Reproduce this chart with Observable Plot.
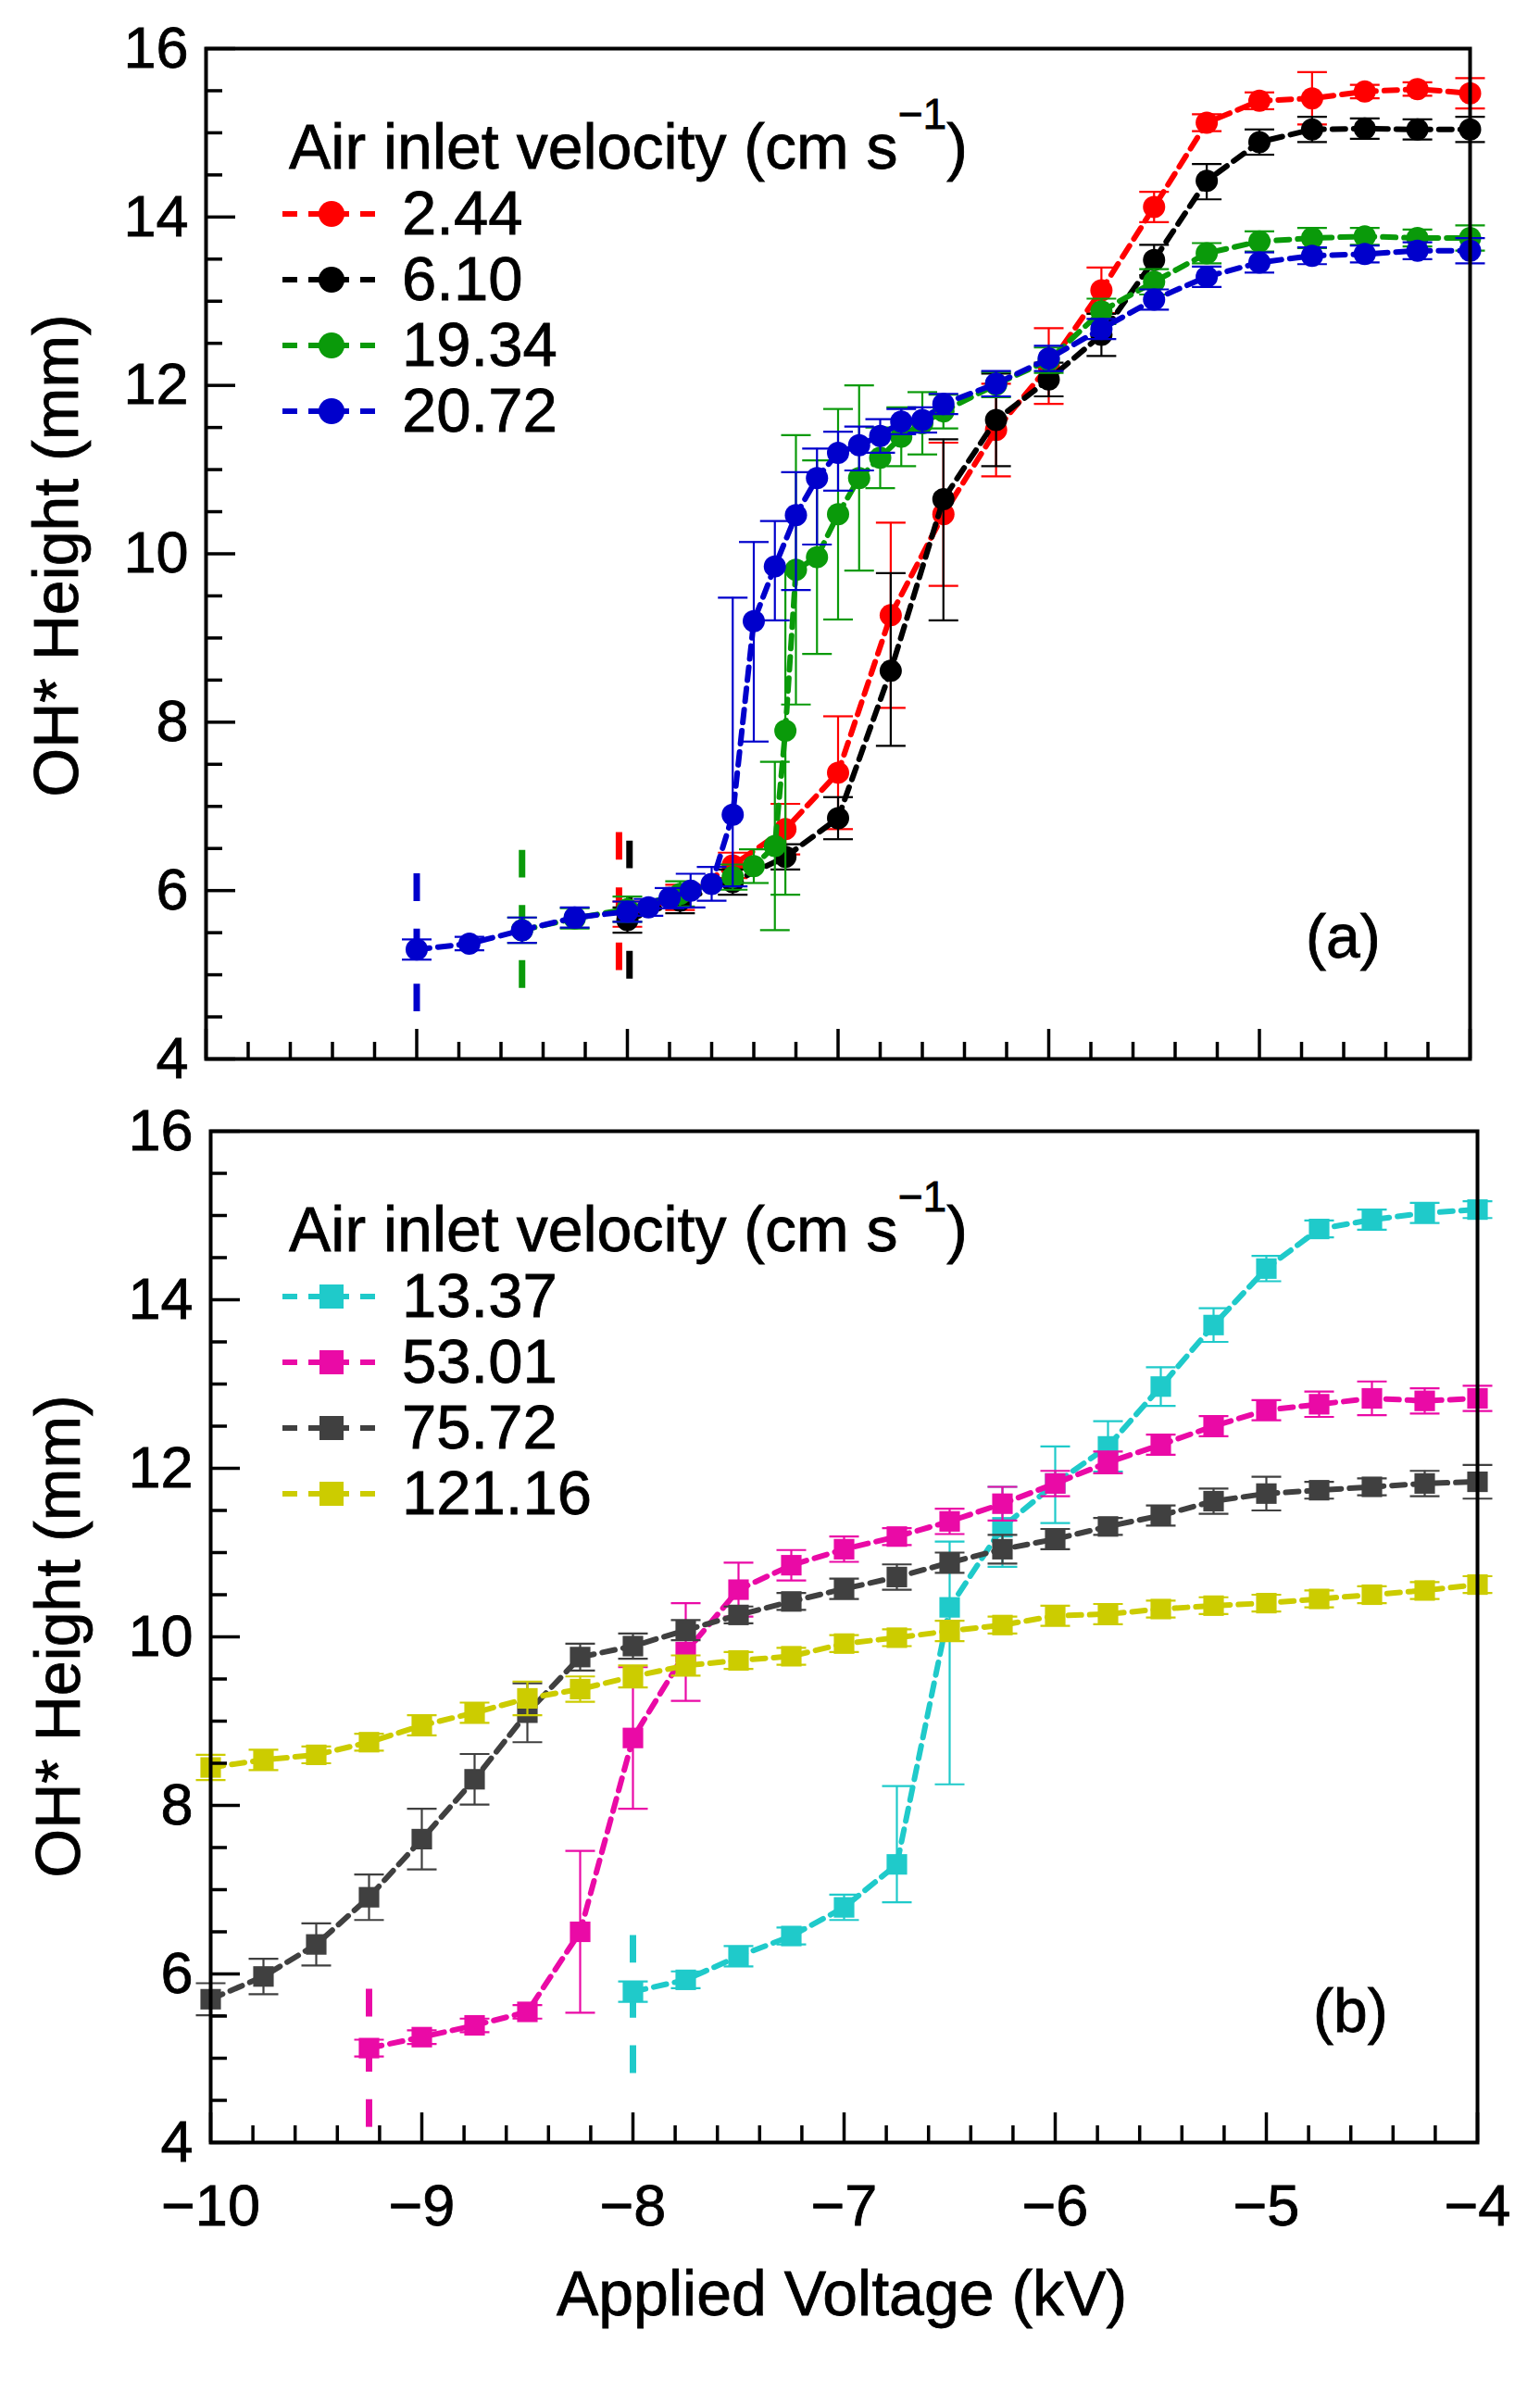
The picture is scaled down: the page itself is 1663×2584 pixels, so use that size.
<!DOCTYPE html>
<html>
<head>
<meta charset="utf-8">
<script src="https://cdn.jsdelivr.net/npm/d3@7"></script>
<script src="https://cdn.jsdelivr.net/npm/@observablehq/plot@0.6"></script>
<style>
  html, body { margin: 0; padding: 0; background: #fff; }
  #page { position: relative; width: 1663px; height: 2584px; font-family: 'Liberation Sans', Arial, Helvetica, sans-serif; color: #000; overflow: hidden; }
  .abs { position: absolute; white-space: nowrap; line-height: 1; -webkit-text-stroke: 0.8px #000; }
  .panel { position: absolute; left: 0; }
  svg text { stroke: #000; stroke-width: 0.8px; }
</style>
</head>
<body>
<div id="page">
  <div id="pa" class="panel" style="top:0px"></div>
  <div id="pb" class="panel" style="top:1190px"></div>
</div>
<script>
// ---------------- Data: panel (a) ----------------
const xRed   = [-8, -7.75, -7.5, -7.25, -7, -6.75, -6.5, -6.25, -6, -5.75, -5.5, -5.25, -5, -4.75, -4.5, -4.25, -4];
const yRed   = [5.72, 5.92, 6.3, 6.73, 7.4, 9.27, 10.47, 11.47, 12.23, 13.13, 14.12, 15.12, 15.38, 15.41, 15.49, 15.52, 15.47];
const hiRed  = [0.15, 0.15, 0.15, 0.3, 0.67, 1.1, 0.85, 0.55, 0.45, 0.27, 0.18, 0.1, 0.1, 0.31, 0.08, 0.08, 0.18];
const loRed  = [0.15, 0.15, 0.15, 0.3, 0.67, 1.1, 0.85, 0.55, 0.45, 0.27, 0.18, 0.1, 0.1, 0.31, 0.08, 0.08, 0.18];

const xBlack  = [-8, -7.75, -7.5, -7.25, -7, -6.75, -6.5, -6.25, -6, -5.75, -5.5, -5.25, -5, -4.75, -4.5, -4.25, -4];
const yBlack  = [5.65, 5.88, 6.1, 6.4, 6.86, 8.61, 10.65, 11.59, 12.07, 12.6, 13.49, 14.43, 14.89, 15.04, 15.05, 15.04, 15.04];
const hiBlack = [0.15, 0.15, 0.15, 0.15, 0.25, 1.16, 0.71, 0.55, 0.2, 0.25, 0.18, 0.2, 0.15, 0.15, 0.12, 0.12, 0.15];
const loBlack = [0.15, 0.15, 0.15, 0.15, 0.25, 0.89, 1.44, 0.55, 0.2, 0.25, 0.18, 0.22, 0.15, 0.15, 0.12, 0.12, 0.15];

const xGreen  = [-8.5, -8.25, -8, -7.75, -7.5, -7.4, -7.3, -7.25, -7.2, -7.1, -7, -6.9, -6.8, -6.7, -6.6, -6.5, -6.25, -6, -5.75, -5.5, -5.25, -5, -4.75, -4.5, -4.25, -4];
const yGreen  = [5.53, 5.67, 5.78, 5.96, 6.16, 6.29, 6.53, 7.9, 9.81, 9.96, 10.47, 10.9, 11.14, 11.39, 11.55, 11.69, 12.01, 12.3, 12.88, 13.23, 13.57, 13.71, 13.75, 13.77, 13.75, 13.75];
const hiGreen = [0.15, 0.12, 0.15, 0.15, 0.15, 0.2, 1.0, 1.95, 1.6, 1.15, 1.25, 1.1, 0.36, 0.35, 0.37, 0.2, 0.15, 0.15, 0.15, 0.15, 0.12, 0.12, 0.12, 0.1, 0.1, 0.15];
const loGreen = [0.15, 0.12, 0.15, 0.15, 0.15, 0.2, 1.0, 1.95, 1.6, 1.15, 1.25, 1.1, 0.36, 0.35, 0.37, 0.2, 0.15, 0.15, 0.15, 0.15, 0.12, 0.12, 0.12, 0.1, 0.1, 0.15];

const xBlue  = [-9, -8.75, -8.5, -8.25, -8, -7.9, -7.8, -7.7, -7.6, -7.5, -7.4, -7.3, -7.2, -7.1, -7, -6.9, -6.8, -6.7, -6.6, -6.5, -6.25, -6, -5.75, -5.5, -5.25, -5, -4.75, -4.5, -4.25, -4];
const yBlue  = [5.3, 5.37, 5.53, 5.68, 5.75, 5.8, 5.91, 6.0, 6.08, 6.9, 9.2, 9.85, 10.46, 10.9, 11.2, 11.29, 11.4, 11.57, 11.59, 11.78, 12.02, 12.32, 12.67, 13.02, 13.29, 13.46, 13.54, 13.56, 13.6, 13.6];
const hiBlue = [0.12, 0.08, 0.15, 0.12, 0.12, 0.1, 0.12, 0.2, 0.2, 2.58, 0.94, 0.54, 0.51, 0.35, 0.25, 0.22, 0.2, 0.15, 0.15, 0.12, 0.15, 0.15, 0.12, 0.12, 0.12, 0.12, 0.1, 0.1, 0.1, 0.15];
const loBlue = [0.12, 0.08, 0.15, 0.12, 0.12, 0.1, 0.12, 0.2, 0.2, 0.85, 1.43, 0.64, 0.89, 0.79, 0.45, 0.3, 0.2, 0.15, 0.15, 0.12, 0.15, 0.15, 0.12, 0.12, 0.12, 0.12, 0.1, 0.1, 0.1, 0.15];

// dashed onset markers, panel (a): red, black, green, blue
const onsetXA  = [-8.04, -7.99, -8.5, -9];
const onsetY1A = [5.05, 4.95, 4.84, 4.56];
const onsetY2A = [6.69, 6.59, 6.49, 6.2];

// ---------------- Data: panel (b) ----------------
const xCyan  = [-8, -7.75, -7.5, -7.25, -7, -6.75, -6.5, -6.25, -6, -5.75, -5.5, -5.25, -5, -4.75, -4.5, -4.25, -4];
const yCyan  = [5.79, 5.93, 6.21, 6.45, 6.79, 7.3, 10.35, 11.3, 11.82, 12.26, 12.97, 13.7, 14.37, 14.84, 14.95, 15.03, 15.07];
const hiCyan = [0.12, 0.1, 0.12, 0.1, 0.15, 0.93, 0.78, 0.48, 0.44, 0.3, 0.23, 0.2, 0.15, 0.1, 0.12, 0.12, 0.1];
const loCyan = [0.12, 0.1, 0.12, 0.1, 0.15, 0.45, 2.1, 0.47, 0.47, 0.3, 0.23, 0.2, 0.15, 0.1, 0.12, 0.12, 0.1];

const xMag  = [-9.25, -9, -8.75, -8.5, -8.25, -8, -7.75, -7.5, -7.25, -7, -6.75, -6.5, -6.25, -6, -5.75, -5.5, -5.25, -5, -4.75, -4.5, -4.25, -4];
const yMag  = [5.12, 5.25, 5.39, 5.55, 6.5, 8.8, 9.82, 10.56, 10.85, 11.04, 11.19, 11.37, 11.58, 11.82, 12.07, 12.28, 12.5, 12.69, 12.76, 12.83, 12.8, 12.83];
const hiMag = [0.1, 0.08, 0.08, 0.08, 0.96, 0.84, 0.58, 0.32, 0.18, 0.15, 0.1, 0.15, 0.2, 0.15, 0.13, 0.12, 0.12, 0.12, 0.15, 0.2, 0.15, 0.15];
const loMag = [0.1, 0.08, 0.08, 0.08, 0.96, 0.84, 0.58, 0.32, 0.18, 0.15, 0.1, 0.15, 0.2, 0.15, 0.13, 0.12, 0.12, 0.12, 0.15, 0.2, 0.15, 0.15];

const xGray  = [-10, -9.75, -9.5, -9.25, -9, -8.75, -8.5, -8.25, -8, -7.75, -7.5, -7.25, -7, -6.75, -6.5, -6.25, -6, -5.75, -5.5, -5.25, -5, -4.75, -4.5, -4.25, -4];
const yGray  = [5.7, 5.97, 6.35, 6.91, 7.6, 8.31, 9.1, 9.76, 9.89, 10.08, 10.26, 10.42, 10.57, 10.71, 10.88, 11.04, 11.16, 11.31, 11.44, 11.61, 11.7, 11.74, 11.78, 11.82, 11.84];
const hiGray = [0.19, 0.21, 0.25, 0.27, 0.36, 0.3, 0.35, 0.16, 0.15, 0.12, 0.1, 0.1, 0.12, 0.15, 0.12, 0.17, 0.12, 0.1, 0.12, 0.15, 0.2, 0.1, 0.1, 0.15, 0.2];
const loGray = [0.19, 0.21, 0.25, 0.27, 0.36, 0.3, 0.35, 0.16, 0.15, 0.12, 0.1, 0.1, 0.12, 0.15, 0.12, 0.17, 0.12, 0.1, 0.12, 0.15, 0.2, 0.1, 0.1, 0.15, 0.2];

const xYel  = [-10, -9.75, -9.5, -9.25, -9, -8.75, -8.5, -8.25, -8, -7.75, -7.5, -7.25, -7, -6.75, -6.5, -6.25, -6, -5.75, -5.5, -5.25, -5, -4.75, -4.5, -4.25, -4];
const yYel  = [8.45, 8.54, 8.6, 8.75, 8.95, 9.1, 9.27, 9.38, 9.53, 9.66, 9.72, 9.77, 9.92, 9.99, 10.07, 10.14, 10.25, 10.27, 10.33, 10.37, 10.4, 10.45, 10.5, 10.55, 10.62];
const hiYel = [0.15, 0.12, 0.1, 0.1, 0.12, 0.12, 0.2, 0.15, 0.13, 0.12, 0.1, 0.1, 0.1, 0.1, 0.12, 0.1, 0.12, 0.12, 0.1, 0.1, 0.1, 0.1, 0.1, 0.1, 0.1];
const loYel = [0.15, 0.12, 0.1, 0.1, 0.12, 0.12, 0.2, 0.15, 0.13, 0.12, 0.1, 0.1, 0.1, 0.1, 0.12, 0.1, 0.12, 0.12, 0.1, 0.1, 0.1, 0.1, 0.1, 0.1, 0.1];

// dashed onset markers, panel (b): magenta, cyan
const onsetXB  = [-9.25, -8];
const onsetY1B = [4.18, 4.82];
const onsetY2B = [5.82, 6.46];

// ---------------- Labels / ticks ----------------
const legendTitle = "Air inlet velocity (cm s";
const labelsA = ["2.44", "6.10", "19.34", "20.72"];
const labelsB = ["13.37", "53.01", "75.72", "121.16"];
const colorsA = ["#ff0000", "#000000", "#0a9a0a", "#0000cc"];
const colorsB = ["#1fcaca", "#ea0aa6", "#404040", "#cccc00"];
const majorX = [-10, -9, -8, -7, -6, -5, -4];
const minorX = [-9.8, -9.6, -9.4, -9.2, -8.8, -8.6, -8.4, -8.2, -7.8, -7.6, -7.4, -7.2, -6.8, -6.6, -6.4, -6.2, -5.8, -5.6, -5.4, -5.2, -4.8, -4.6, -4.4, -4.2];
const majorY = [4, 6, 8, 10, 12, 14, 16];
const minorY = [4.5, 5, 5.5, 6.5, 7, 7.5, 8.5, 9, 9.5, 10.5, 11, 11.5, 12.5, 13, 13.5, 14.5, 15, 15.5];
const xTitle = "Applied Voltage (kV)";
const yTitle = "OH* Height (mm)";

// ---------------- Helpers ----------------
const FONT = "'Liberation Sans', Arial, Helvetica, sans-serif";
const capSymbol = { draw(ctx, size) { const w = Math.sqrt(size / Math.PI); ctx.moveTo(-w, 0); ctx.lineTo(w, 0); } };

function rowsOf(xs, ys, hi, lo) {
  return xs.map((x, i) => ({ x, y: ys[i], hi: ys[i] + hi[i], lo: ys[i] - lo[i] }));
}
function seriesMarks(rows, color, symbol, r) {
  return [
    Plot.ruleX(rows, { x: "x", y1: "lo", y2: "hi", stroke: color, strokeWidth: 2.2 }),
    Plot.dot(rows, { x: "x", y: "hi", symbol: capSymbol, r: 16, stroke: color, fill: "none", strokeWidth: 2.2 }),
    Plot.dot(rows, { x: "x", y: "lo", symbol: capSymbol, r: 16, stroke: color, fill: "none", strokeWidth: 2.2 }),
    Plot.line(rows, { x: "x", y: "y", stroke: color, strokeWidth: 6, strokeDasharray: "14,9" }),
    Plot.dot(rows, { x: "x", y: "y", symbol, r, fill: color, stroke: "none" })
  ];
}
function onsetMarks(xs, y1s, y2s, colors) {
  return xs.map((x, i) => Plot.ruleX([{ x, y1: y1s[i], y2: y2s[i] }], { x: "x", y1: "y1", y2: "y2", stroke: colors[i], strokeWidth: 7, strokeDasharray: "29.8,29.8" }));
}
const fmtX = d => (d < 0 ? "\u2212" : "") + Math.abs(d);
function axisMarks(showX) {
  return [
    Plot.axisY({ ticks: majorY, anchor: "left", tickSize: -32, tickPadding: 51, strokeWidth: 3.5, fontSize: 63, label: null, tickFormat: d => String(d) }),
    Plot.axisY({ ticks: minorY, anchor: "left", tickSize: -18, strokeWidth: 3.5, label: null, tickFormat: () => "" }),
    Plot.axisX({ ticks: majorX, anchor: "bottom", tickSize: -32, tickPadding: 77, strokeWidth: 3.5, fontSize: 63, label: null, tickFormat: showX ? fmtX : () => "" }),
    Plot.axisX({ ticks: minorX, anchor: "bottom", tickSize: -18, strokeWidth: 3.5, label: null, tickFormat: () => "" }),
    Plot.frame({ strokeWidth: 4, stroke: "#000" })
  ];
}

// ---------------- Panel (a) ----------------
const plotA = Plot.plot({
  width: 1663, height: 1190,
  marginTop: 52, marginBottom: 47, marginLeft: 222, marginRight: 76,
  style: { fontFamily: FONT, fontSize: "63px", color: "#000", background: "transparent", overflow: "visible" },
  x: { domain: [-10, -4], label: null },
  y: { domain: [4, 16], label: null },
  marks: [
    ...onsetMarks(onsetXA, onsetY1A, onsetY2A, colorsA),
    ...seriesMarks(rowsOf(xRed, yRed, hiRed, loRed), colorsA[0], "circle", 12),
    ...seriesMarks(rowsOf(xBlack, yBlack, hiBlack, loBlack), colorsA[1], "circle", 12),
    ...seriesMarks(rowsOf(xGreen, yGreen, hiGreen, loGreen), colorsA[2], "circle", 12),
    ...seriesMarks(rowsOf(xBlue, yBlue, hiBlue, loBlue), colorsA[3], "circle", 12),
    ...axisMarks(false)
  ]
});
document.getElementById("pa").appendChild(plotA);

// ---------------- Panel (b) ----------------
const plotB = Plot.plot({
  width: 1663, height: 1394,
  marginTop: 31, marginBottom: 271, marginLeft: 227, marginRight: 68,
  style: { fontFamily: FONT, fontSize: "63px", color: "#000", background: "transparent", overflow: "visible" },
  x: { domain: [-10, -4], label: null },
  y: { domain: [4, 16], label: null },
  marks: [
    ...onsetMarks(onsetXB, onsetY1B, onsetY2B, [colorsB[1], colorsB[0]]),
    ...seriesMarks(rowsOf(xCyan, yCyan, hiCyan, loCyan), colorsB[0], "square", 12.5),
    ...seriesMarks(rowsOf(xMag, yMag, hiMag, loMag), colorsB[1], "square", 12.5),
    ...seriesMarks(rowsOf(xGray, yGray, hiGray, loGray), colorsB[2], "square", 12.5),
    ...seriesMarks(rowsOf(xYel, yYel, hiYel, loYel), colorsB[3], "square", 12.5),
    ...axisMarks(true)
  ]
});
document.getElementById("pb").appendChild(plotB);

// ---------------- Text overlays & legends ----------------
const page = document.getElementById("page");
function addText(html, left, baseline, size, extra = "") {
  const d = document.createElement("div");
  d.className = "abs";
  d.style.cssText = `left:${left}px; top:${baseline - 0.8465 * size}px; font-size:${size}px; ${extra}`;
  d.innerHTML = html;
  page.appendChild(d);
  return d;
}
function addYTitle(cx, cy) {
  const d = document.createElement("div");
  d.className = "abs";
  d.style.cssText = `left:${cx}px; top:${cy}px; font-size:68px; transform: translate(-50%,-50%) rotate(-90deg);`;
  d.textContent = yTitle;
  page.appendChild(d);
}
function addLegend(labels, colors, symbol, dy) {
  addText(`${legendTitle}<span style="font-size:0.68em; position:relative; top:-0.95em;">\u22121</span>)`, 312, 182 + dy, 68);
  labels.forEach((lab, i) => {
    const base = 253 + dy + i * 71;
    const cy = base - 22;
    const svg = document.createElementNS("http://www.w3.org/2000/svg", "svg");
    svg.setAttribute("width", 110); svg.setAttribute("height", 40);
    svg.style.cssText = `position:absolute; left:303px; top:${cy - 20}px; overflow:visible;`;
    const mk = symbol === "circle"
      ? `<ellipse cx="55" cy="20" rx="14" ry="14" fill="${colors[i]}"/>`
      : `<rect x="42" y="7" width="26" height="26" fill="${colors[i]}"/>`;
    svg.innerHTML = `<line x1="2" y1="20" x2="108" y2="20" stroke="${colors[i]}" stroke-width="6" stroke-dasharray="16,12"/>${mk}`;
    page.appendChild(svg);
    addText(lab, 434, base, 67);
  });
}
addLegend(labelsA, colorsA, "circle", 0);
addLegend(labelsB, colorsB, "square", 1169);
addYTitle(60, 600);
addYTitle(62, 1767);
addText("(a)", 1410, 1034, 66);
addText("(b)", 1418, 2194, 66);
const xt = addText(xTitle, 0, 2500, 68);
xt.style.left = "909px"; xt.style.transform = "translateX(-50%)";
</script>
</body>
</html>
